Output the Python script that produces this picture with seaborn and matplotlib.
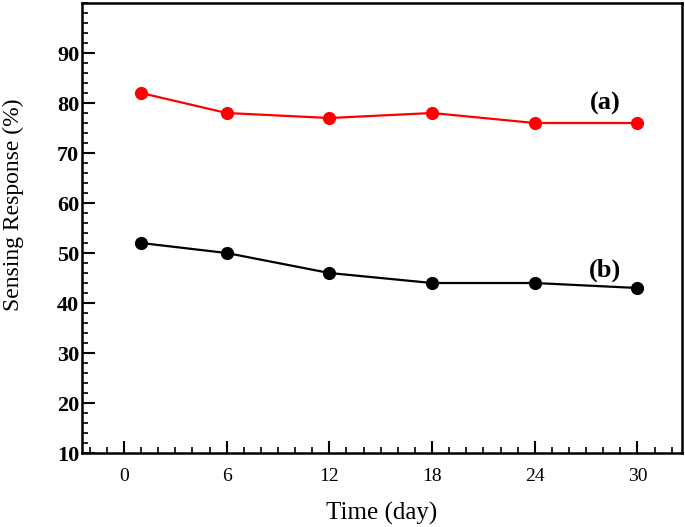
import numpy as np
import pandas as pd
import matplotlib
matplotlib.use("Agg")
import matplotlib.pyplot as plt
import seaborn as sns
from matplotlib.ticker import MultipleLocator

sns.set_style("white")
plt.rcParams["font.family"] = ["Liberation Serif", "DejaVu Serif"]
plt.rcParams["text.color"] = "black"
plt.rcParams["axes.labelcolor"] = "black"
plt.rcParams["xtick.color"] = "black"
plt.rcParams["ytick.color"] = "black"

days = [1, 6, 12, 18, 24, 30]
response_a = [82, 78, 77, 78, 76, 76]
response_b = [52, 50, 46, 44, 44, 43]
x_ticks = [0, 6, 12, 18, 24, 30]
y_ticks = [10, 20, 30, 40, 50, 60, 70, 80, 90]

fig = plt.figure(figsize=(6.85, 5.27), dpi=100)
ax = fig.add_axes([0.1197, 0.1404, 0.8759, 0.8539])

sns.lineplot(x=days, y=response_a, color="#ff0000", marker="o", markersize=9.5,
             markeredgewidth=0, linewidth=1.6, ax=ax)
sns.lineplot(x=days, y=response_b, color="black", marker="o", markersize=9.5,
             markeredgewidth=0, linewidth=1.6, ax=ax)

ax.text(28.1, 80.0, "(a)", fontsize=19, fontweight="bold", ha="center", va="center")
ax.text(28.1, 46.6, "(b)", fontsize=19, fontweight="bold", ha="center", va="center")

ax.set_xlim(-2.45, 32.6)
ax.set_ylim(10, 100)
ax.set_xticks(x_ticks)
ax.set_yticks(y_ticks)
ax.xaxis.set_minor_locator(MultipleLocator(1))
ax.yaxis.set_minor_locator(MultipleLocator(2))
ax.tick_params(which="major", direction="in", length=9, width=1.5,
               bottom=True, left=True, top=False, right=False)
ax.tick_params(which="minor", direction="in", length=4, width=1.2,
               bottom=True, left=True, top=False, right=False)
ax.tick_params(axis="x", which="major", labelsize=14, pad=11)
ax.tick_params(axis="y", which="major", labelsize=16, pad=2)
for lbl in ax.get_yticklabels():
    lbl.set_fontweight("bold")

for s in ax.spines.values():
    s.set_linewidth(1.8)
    s.set_color("black")

ax.set_xlabel("Time (day)", fontsize=18, labelpad=12)
ax.set_ylabel("Sensing Response (%)", fontsize=17)
ax.yaxis.set_label_coords(-0.096, 0.551)

fig.savefig("out.png", dpi=100)
